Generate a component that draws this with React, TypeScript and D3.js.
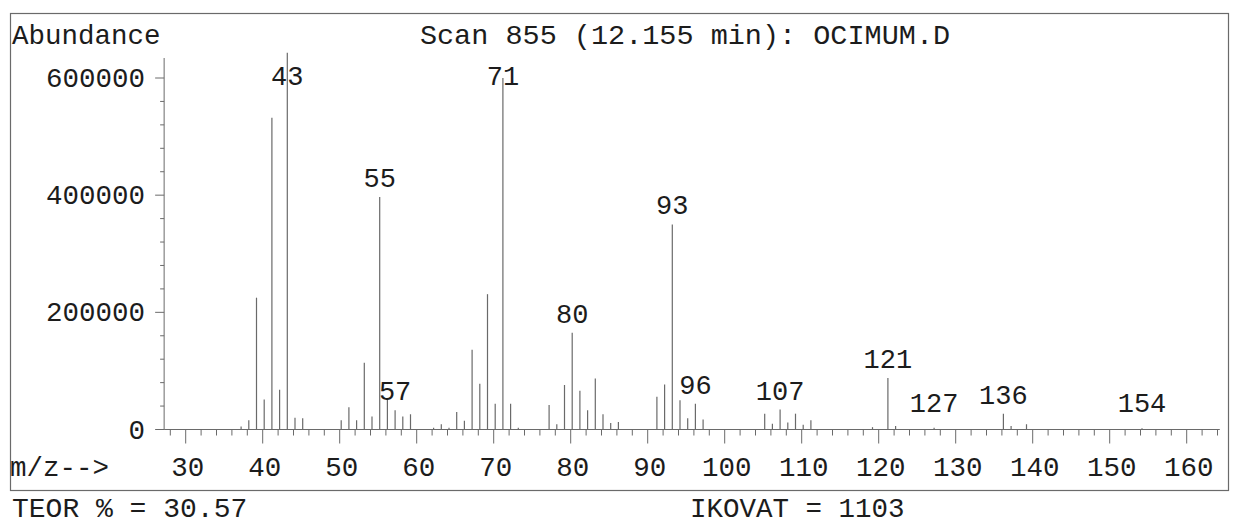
import React from "react";
import * as d3 from "d3";

const massValues: number[] = [
  37, 38, 39, 40, 41, 42, 43, 44, 45,
  50, 51, 52, 53, 54, 55, 56, 57, 58, 59,
  62, 63, 64, 65, 66, 67, 68, 69, 70, 71, 72, 73,
  77, 78, 79, 80, 81, 82, 83, 84, 85, 86,
  91, 92, 93, 94, 95, 96, 97,
  105, 106, 107, 108, 109, 110, 111,
  119, 121, 122, 127, 136, 137, 139, 154,
];
const abundanceValues: number[] = [
  5000, 16000, 225000, 51000, 532000, 68000, 643000, 20000, 19000,
  16000, 38000, 16000, 114000, 22000, 397000, 53000, 33000, 22000, 26000,
  3000, 9000, 3000, 30000, 15000, 136000, 78000, 231000, 44000, 600000, 44000, 3000,
  42000, 9000, 76000, 165000, 66000, 33000, 87000, 26000, 11000, 13000,
  56000, 77000, 350000, 50000, 19000, 44000, 17000,
  27000, 10000, 34000, 12000, 27000, 8000, 16000,
  4000, 88000, 6000, 3000, 27000, 6000, 9000, 2000,
];
const labeledMasses: number[] = [43, 55, 57, 71, 80, 93, 96, 107, 121, 127, 136, 154];
const yTickLabels: number[] = [0, 200000, 400000, 600000];
const xTickLabels: number[] = [30, 40, 50, 60, 70, 80, 90, 100, 110, 120, 130, 140, 150, 160];

const titleText = "Scan 855 (12.155 min): OCIMUM.D";
const yTitle = "Abundance";
const xTitle = "m/z-->";
const footLeft = "TEOR % = 30.57";
const footRight = "IKOVAT = 1103";

const FONT = "'Liberation Mono', 'DejaVu Sans Mono', monospace";
const INK = "#1c1c1c";
const LINE = "#6a6a6a";

export default function App() {
  const x = d3.scaleLinear().domain([30, 160]).range([185.7, 1186.7]);
  const y = d3.scaleLinear().domain([0, 600000]).range([429.5, 78]);
  const xMin = 27.2;
  const xMax = 164.3;
  const axisX = x(xMin);
  const y0 = y(0);
  const yTop = 58;

  const minorY = d3.range(0, 600001, 40000);
  const minorX = d3.range(28, 165, 2);

  const peaks = massValues.map((m, i) => ({ m, v: abundanceValues[i] }));

  return (
    <svg
      width={1238}
      height={524}
      style={{ position: "absolute", left: 0, top: 0, background: "#fff" }}
    >
      <rect x={0} y={0} width={1238} height={524} fill="#fff" />
      {/* frame */}
      <rect x={10.5} y={13.5} width={1218} height={477} fill="none" stroke={LINE} strokeWidth={1.2} />

      {/* titles */}
      <text x={12} y={44} fontFamily={FONT} fontSize={27.5} fill={INK}>{yTitle}</text>
      <text x={685} y={44} fontFamily={FONT} fontSize={28.5} fill={INK} textAnchor="middle">{titleText}</text>

      {/* y axis */}
      <line x1={axisX} x2={axisX} y1={yTop} y2={y0} stroke={LINE} strokeWidth={1} />
      {minorY.map((v) => (
        <line key={"ym" + v} x1={axisX - (v % 200000 === 0 ? 9 : 4)} x2={axisX} y1={y(v)} y2={y(v)} stroke={LINE} strokeWidth={1} />
      ))}
      {yTickLabels.map((v) => (
        <text key={"yl" + v} x={145} y={y(v) + 9} fontFamily={FONT} fontSize={27.5} fill={INK} textAnchor="end">{v}</text>
      ))}

      {/* x axis */}
      <line x1={axisX} x2={x(xMax)} y1={y0} y2={y0} stroke={LINE} strokeWidth={1} />
      {minorX.map((m) => (
        <line key={"xm" + m} x1={x(m)} x2={x(m)} y1={y0} y2={y0 + (m % 10 === 0 ? 14 : 6)} stroke={LINE} strokeWidth={1} />
      ))}
      {xTickLabels.map((m) => (
        <text key={"xl" + m} x={x(m) + 2} y={476} fontFamily={FONT} fontSize={27.5} fill={INK} textAnchor="middle">{m}</text>
      ))}
      <text x={10} y={476} fontFamily={FONT} fontSize={27.5} fill={INK}>{xTitle}</text>

      {/* peaks */}
      {peaks.map((p) => (
        <line key={"p" + p.m} x1={x(p.m) + 1.5} x2={x(p.m) + 1.5} y1={y0} y2={y(p.v)} stroke={LINE} strokeWidth={1.2} />
      ))}
      {peaks
        .filter((p) => labeledMasses.includes(p.m))
        .map((p) => (
          <text
            key={"pl" + p.m}
            x={x(p.m) + 1.5}
            y={Math.max(Math.min(y(p.v) - 10, 412), 85)}
            fontFamily={FONT}
            fontSize={27}
            fill={INK}
            textAnchor="middle"
          >
            {p.m}
          </text>
        ))}

      {/* footer */}
      <text x={12} y={517} fontFamily={FONT} fontSize={28} fill={INK}>{footLeft}</text>
      <text x={690} y={517} fontFamily={FONT} fontSize={27.5} fill={INK}>{footRight}</text>
    </svg>
  );
}
